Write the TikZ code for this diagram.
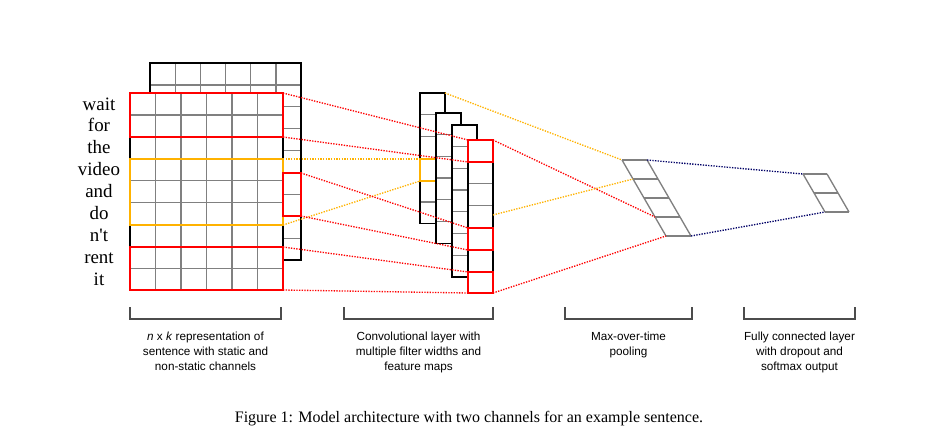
\documentclass[tikz,border=0pt]{standalone}
\usepackage{fontspec}
\setmainfont{Liberation Serif}
\setsansfont{Liberation Sans}
\begin{document}
\begin{tikzpicture}[x=0.75pt,y=-0.75pt,
  gridl/.style={draw=black!50,line width=1pt},
  outer/.style={draw=black,line width=1pt},
  redbox/.style={draw=red,line width=1.5pt},
  yelbox/.style={draw=orange!60!yellow,line width=1.5pt},
  reddot/.style={red,densely dotted,line width=1pt},
  yeldot/.style={orange!60!yellow,densely dotted,line width=1pt},
  bluedot/.style={blue!40!black,densely dotted,line width=1pt},
  word/.style={font=\fontsize{14.2}{14}\selectfont,anchor=base},
  lab/.style={font=\sffamily\fontsize{8.8}{11.2}\selectfont,align=center,anchor=north},
  brk/.style={draw=black!70,line width=0.8pt}]
\useasboundingbox (0,0) rectangle (938,443);
% back matrix
\fill[white] (150,63) rectangle (301,260);
\foreach \i in {1,...,8} \draw[gridl] (150,63+\i*21.9) -- (301,63+\i*21.9);
\foreach \j in {1,...,5} \draw[gridl] (150+\j*25.17,63) -- (150+\j*25.17,260);
\draw[outer] (150,63) rectangle (301,260);
% front matrix
\fill[white] (130,93) rectangle (283,290);
\foreach \i in {1,...,8} \draw[gridl] (130,93+\i*21.9) -- (283,93+\i*21.9);
\foreach \j in {1,...,5} \draw[gridl] (130+\j*25.5,93) -- (130+\j*25.5,290);
\draw[outer] (130,93) rectangle (283,290);
\draw[redbox] (130,93) rectangle (283,137);
\draw[yelbox] (130,159) rectangle (283,225);
\draw[redbox] (130,247) rectangle (283,290);
\draw[redbox] (283,173) rectangle (301,216);
% words
\foreach \w [count=\k from 0] in {wait,for,the,video,and,do,n\textquotesingle t,rent,it}
  \node[word] (w\k) at (99,110+\k*21.9) {\w};
% feature maps
\newcommand\fmap[4]{% x, top, ncells, cellh
  \fill[white] (#1,#2) rectangle (#1+25,#2+#3*#4);
  \foreach \i in {1,...,#3} \draw[gridl] (#1,#2+\i*#4) -- (#1+25,#2+\i*#4);
  \draw[outer] (#1,#2) rectangle (#1+25,#2+#3*#4);}
\fmap{420}{93}{6}{21.8}
\draw[yelbox] (420,159) rectangle (436,181);
\fmap{436}{113}{6}{21.7}
\fmap{452}{125}{7}{21.7}
\fmap{468}{140}{7}{21.9}
\draw[redbox] (468,140) rectangle (493,162);
\draw[redbox] (468,228) rectangle (493,250);
\draw[redbox] (468,272) rectangle (493,293);
% pooling
\foreach \i in {0,...,4} \draw[gridl] (622+\i*11.05,160+\i*19) -- ++(25,0);
\draw[gridl] (622,160) -- (666,236);
\draw[gridl] (647,160) -- (691,236);
% output
\foreach \i in {0,...,2} \draw[gridl] (803+\i*11,174+\i*19) -- ++(24,0);
\draw[gridl] (803,174) -- (825,212);
\draw[gridl] (827,174) -- (849,212);
% connectors
\draw[reddot] (283,93) -- (468,140);
\draw[reddot] (283,137) -- (468,162);
\draw[yeldot] (283,159) -- (420,159);
\draw[yeldot] (283,225) -- (420,181);
\draw[reddot] (301,173) -- (468,228);
\draw[reddot] (301,216) -- (468,250);
\draw[reddot] (283,247) -- (468,272);
\draw[reddot] (283,290) -- (468,293);
\draw[yeldot] (445,93) -- (622,160);
\draw[reddot] (493,140) -- (655,217);
\draw[yeldot] (493,215) -- (633,179);
\draw[reddot] (493,293) -- (666,236);
\draw[bluedot] (647,160) -- (803,174);
\draw[bluedot] (691,236) -- (825,212);
% brackets and labels
\foreach \a/\b [count=\n] in {130/281,344/493,565/692,744/855}{
  \draw[brk] (\a,307) -- (\a,319) -- (\b,319) -- (\b,307);
  \coordinate (b\n) at ({(\a+\b)/2},327);}
\node[lab] (l1) at (b1) {\textit{n} x \textit{k} representation of\\sentence with static and\\non-static channels};
\node[lab] (l2) at (b2) {Convolutional layer with\\multiple filter widths and\\feature maps};
\node[lab] (l3) at (b3) {Max-over-time\\pooling};
\node[lab] (l4) at (b4) {Fully connected layer\\with dropout and\\softmax output};
\node[font=\fontsize{12}{12}\selectfont] (cap) at (469,419) {Figure 1: Model architecture with two channels for an example sentence.};
\end{tikzpicture}
\end{document}
